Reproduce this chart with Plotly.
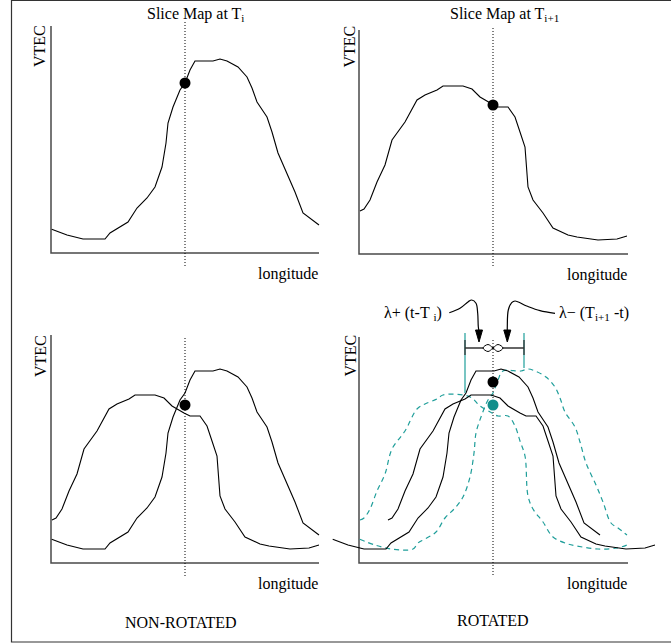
import plotly.graph_objects as go

W, H = 671, 643

# ---- data (longitude offset, VTEC) in diagram units, origin at the axes corner ----
lon_ti = [0.7, 16, 32, 54, 59, 66, 77, 86, 96, 104, 111, 115, 117, 122, 129, 134, 139, 144, 162, 169,
          176, 187, 196, 201, 206, 216, 221, 227, 237, 244, 252, 259, 268]
vtec_ti = [23.7, 18, 14, 14, 20, 24, 31, 45, 55, 66, 86, 110, 130, 146, 163, 170, 183, 192, 192, 194,
           192, 186, 176, 165, 151, 136, 121, 100, 78, 61, 40, 35, 28]

lon_ti1 = [1, 5, 11, 18, 26, 33, 46, 58, 66, 78, 84, 104, 113, 121, 133, 139, 149, 156, 161, 166,
           169, 174, 184, 194, 209, 218, 239, 258, 268]
vtec_ti1 = [43, 45, 54, 72, 89, 114, 132, 154, 159, 164, 168, 168, 165, 157, 150, 147, 147, 137, 122, 107,
            67, 54, 41, 26, 19, 17, 14, 15, 18]

shift_ti = -27     # rotation of map T_i   : lambda + (t - T_i)
shift_ti1 = 28     # rotation of map T_i+1 : lambda - (T_i+1 - t)

slice_lon = 134
dot_ti = 170
dot_ti1 = 149
dot_interp = 158
dot_rot = 181

# annotation graphics for the rotated panel (diagram units)
arrow_l_x = [90.3, 101, 109.3, 112.7, 117, 118.7, 119.3, 120]
arrow_l_y = [250.3, 254.7, 261.3, 263, 259.7, 249.7, 236.3, 232]
arrow_r_x = [196, 181, 167.7, 156, 152.7, 149.3, 148.3, 148.3]
arrow_r_y = [249.7, 252.3, 257, 262, 260.3, 253, 236.3, 232]
head_l_x = [116.5, 123.5, 120, 116.5]
head_r_x = [144.8, 151.8, 148.3, 144.8]
head_y = [233, 233, 221, 233]
bracket_x = [106, 165]
bracket_h = 215
loop_x = [124, 129, 134, 139, 144, 139, 134, 129, 124]
loop_y = [215, 218.5, 215, 211.5, 215, 218.5, 215, 211.5, 215]

BLACK = "#000000"
AXC = "#4a4a4a"
TEAL = "#1f9e9a"
TEAL_DOT = "#128f8b"
FONT = "Liberation Serif"

# panel pixel boxes (left, top, right, bottom) and axes-origin pixel
panels = [
    dict(box=(14, 2, 334, 292), origin=(51, 253), yax=227, xax=268, dot_top=231),
    dict(box=(336, 2, 660, 292), origin=(359, 254), yax=224, xax=269, dot_top=226),
    dict(box=(14, 294, 326, 640), origin=(51, 563), yax=228, xax=268, dot_top=225),
    dict(box=(328, 294, 670, 640), origin=(359, 563), yax=226, xax=269, dot_top=223),
]

fig = go.Figure()
layout = {}
annotations = []


def refs(i):
    return ("x" if i == 0 else f"x{i+1}"), ("y" if i == 0 else f"y{i+1}")


def line(i, x, y, color=BLACK, width=1.1, dash=None, shape="linear", fill=None, fillcolor=None):
    xr, yr = refs(i)
    fig.add_trace(go.Scatter(x=x, y=y, xaxis=xr, yaxis=yr, mode="lines",
                             line=dict(color=color, width=width, dash=dash, shape=shape),
                             fill=fill, fillcolor=fillcolor,
                             hoverinfo="skip", showlegend=False))


def dot(i, y, color=BLACK):
    xr, yr = refs(i)
    fig.add_trace(go.Scatter(x=[slice_lon], y=[y], xaxis=xr, yaxis=yr, mode="markers",
                             marker=dict(color=color, size=11, line=dict(width=0)),
                             hoverinfo="skip", showlegend=False))


def text(i, x, y, s, xanchor="center", yanchor="middle", angle=0, size=16):
    xr, yr = refs(i)
    annotations.append(dict(x=x, y=y, xref=xr, yref=yr, text=s, showarrow=False,
                            xanchor=xanchor, yanchor=yanchor, textangle=angle,
                            font=dict(family=FONT, size=size, color=BLACK)))


for i, p in enumerate(panels):
    L, T, R, B = p["box"]
    ox, oy = p["origin"]
    n = "" if i == 0 else str(i + 1)
    layout["xaxis" + n] = dict(domain=[L / W, R / W], range=[L - ox, R - ox], visible=False,
                               fixedrange=True, anchor="y" + n)
    layout["yaxis" + n] = dict(domain=[1 - B / H, 1 - T / H], range=[oy - B, oy - T], visible=False,
                               fixedrange=True, anchor="x" + n)
    # axes of the diagram
    line(i, [0, 0, p["xax"]], [p["yax"], 0, 0], color=AXC, width=1.5)
    # slice line
    line(i, [slice_lon, slice_lon], [p["dot_top"], -13], color=BLACK, width=1, dash="1px,2px")
    text(i, -11 + (i % 2) * 1.5, 207, "VTEC", angle=-90)
    text(i, p["xax"] + 1, -21, "longitude", xanchor="right")

# panel 1: slice map at T_i
line(0, lon_ti, vtec_ti)
dot(0, dot_ti)
text(0, 94, 238, "Slice Map at T<sub>i</sub>", xanchor="left")

# panel 2: slice map at T_i+1
line(1, lon_ti1, vtec_ti1)
dot(1, dot_ti1)
text(1, 89, 239, "Slice Map at T<sub>i+1</sub>", xanchor="left")

# panel 3: non-rotated
line(2, lon_ti1, vtec_ti1)
line(2, lon_ti, vtec_ti)
dot(2, dot_interp)
text(2, 130, -59, "NON-ROTATED")

# panel 4: rotated
line(3, lon_ti1, vtec_ti1, color=TEAL, width=1.2, dash="5px,4px", shape="spline")
line(3, lon_ti, vtec_ti, color=TEAL, width=1.2, dash="5px,4px", shape="spline")
line(3, [x + shift_ti for x in lon_ti], vtec_ti)
line(3, [x + shift_ti1 for x in lon_ti1], vtec_ti1)
line(3, [bracket_x[0], bracket_x[0]], [230, 170], color=TEAL, width=1.2)
line(3, [bracket_x[1], bracket_x[1]], [230, 195], color=TEAL, width=1.2)
line(3, bracket_x, [bracket_h, bracket_h], color="#333333", width=1.3)
line(3, [bracket_x[0], bracket_x[0]], [223, 208], color="#333333", width=1.3)
line(3, [bracket_x[1], bracket_x[1]], [223, 208], color="#333333", width=1.3)
line(3, loop_x, loop_y, color=BLACK, width=1, shape="spline", fill="toself", fillcolor="white")
line(3, arrow_l_x, arrow_l_y, width=1.2, shape="spline")
line(3, arrow_r_x, arrow_r_y, width=1.2, shape="spline")
line(3, head_l_x, head_y, width=1, fill="toself", fillcolor=BLACK)
line(3, head_r_x, head_y, width=1, fill="toself", fillcolor=BLACK)
dot(3, dot_rot)
dot(3, dot_interp, TEAL_DOT)
text(3, 23, 250, "λ+ (t-T <sub>i</sub>)", xanchor="left")
text(3, 198, 250, "λ− (T<sub>i+1</sub> -t)", xanchor="left")
text(3, 134, -57, "ROTATED")

# outer frame (open on the right)
xl = 11.5 / W
yt = 1 - 0.5 / H
yb = 1 - 642 / H
shapes = [dict(type="path", xref="paper", yref="paper",
               path=f"M 1,{yt} L {xl},{yt} L {xl},{yb} L 1,{yb}",
               line=dict(color="#333333", width=1.2))]

fig.update_layout(width=W, height=H, autosize=False,
                  margin=dict(l=0, r=0, t=0, b=0, pad=0),
                  paper_bgcolor="white", plot_bgcolor="rgba(0,0,0,0)",
                  showlegend=False, annotations=annotations, shapes=shapes, **layout)

fig.write_html("out.html", config={"displayModeBar": False})
